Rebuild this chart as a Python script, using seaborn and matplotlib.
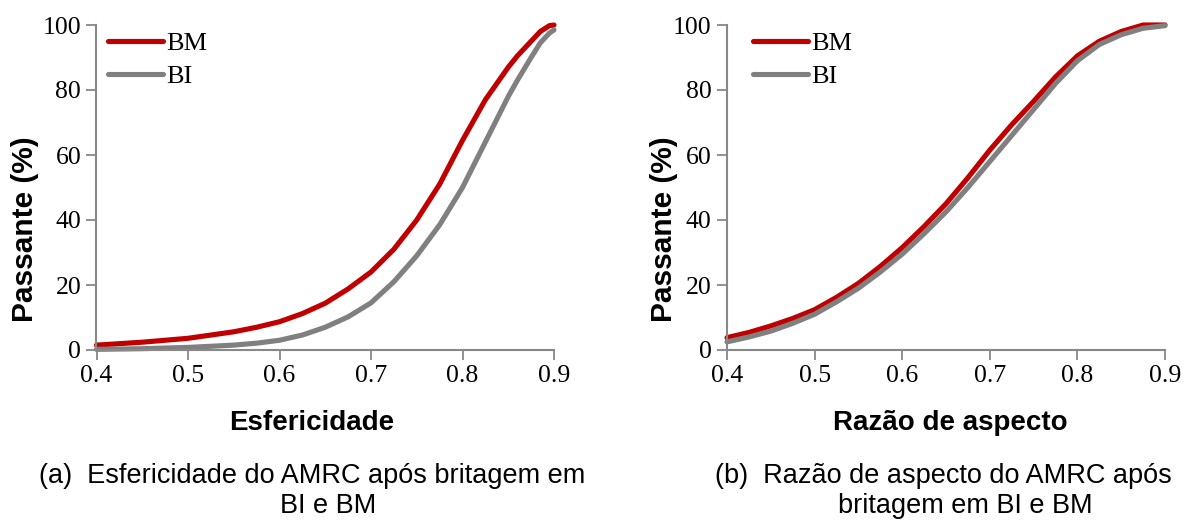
import numpy as np
import pandas as pd
import seaborn as sns
import matplotlib
matplotlib.use("Agg")
import matplotlib.pyplot as plt
from matplotlib import font_manager

# ---- data ----
esf_x_bm = [0.40, 0.45, 0.50, 0.55, 0.575, 0.60, 0.625, 0.65, 0.675, 0.70, 0.725, 0.75,
            0.775, 0.80, 0.825, 0.85, 0.86, 0.875, 0.885, 0.895, 0.90]
esf_bm = [1.5, 2.4, 3.6, 5.6, 7.0, 8.7, 11.2, 14.4, 18.8, 24.0, 31.0, 40.0,
          51.0, 64.5, 77.0, 87.0, 90.5, 95.0, 98.0, 99.8, 100.0]
esf_x_bi = [0.40, 0.45, 0.50, 0.55, 0.575, 0.60, 0.625, 0.65, 0.675, 0.70, 0.725, 0.75,
            0.775, 0.80, 0.825, 0.85, 0.86, 0.875, 0.885, 0.895, 0.90]
esf_bi = [0.2, 0.4, 0.8, 1.5, 2.1, 3.0, 4.6, 7.0, 10.2, 14.5, 21.0, 29.0,
          38.5, 50.0, 64.0, 78.0, 83.0, 90.0, 94.5, 97.5, 98.5]

raz_x = [0.40, 0.425, 0.45, 0.475, 0.50, 0.525, 0.55, 0.575, 0.60, 0.625, 0.65, 0.675,
         0.70, 0.725, 0.75, 0.775, 0.80, 0.825, 0.85, 0.875, 0.90]
raz_bm = [3.8, 5.4, 7.4, 9.7, 12.4, 16.2, 20.5, 25.7, 31.5, 38.0, 45.0, 53.0,
          61.5, 69.3, 76.5, 84.0, 90.5, 95.0, 98.0, 100.0, 100.0]
raz_bi = [2.5, 4.0, 5.8, 8.2, 11.0, 14.8, 19.0, 24.0, 29.5, 35.8, 42.5, 50.0,
          58.0, 66.0, 74.0, 82.0, 89.0, 94.0, 97.0, 99.0, 99.8]

series_names = ["BM", "BI"]
xticks = [0.4, 0.5, 0.6, 0.7, 0.8, 0.9]
yticks = [0, 20, 40, 60, 80, 100]
xlabels = ["Esfericidade", "Razão de aspecto"]
ylabel = "Passante (%)"
captions = [("(a)  Esfericidade do AMRC após britagem em", "BI e BM"),
            ("(b)  Razão de aspecto do AMRC após", "britagem em BI e BM")]

df_a = pd.concat([
    pd.DataFrame({"x": esf_x_bm, "y": esf_bm, "s": "BM"}),
    pd.DataFrame({"x": esf_x_bi, "y": esf_bi, "s": "BI"}),
])
df_b = pd.concat([
    pd.DataFrame({"x": raz_x, "y": raz_bm, "s": "BM"}),
    pd.DataFrame({"x": raz_x, "y": raz_bi, "s": "BI"}),
])

sns.set_theme(style="white")
plt.rcParams["font.family"] = ["Liberation Serif", "DejaVu Serif"]
plt.rcParams["text.color"] = "black"
plt.rcParams["axes.labelcolor"] = "black"

installed = {f.name for f in font_manager.fontManager.ttflist}
if "Liberation Sans Narrow" in installed:
    cap_family, cap_size = ["Liberation Sans Narrow", "Liberation Sans"], 23
else:
    cap_family, cap_size = ["Liberation Sans", "DejaVu Sans"], 19.5

palette = {"BM": "#C00000", "BI": "#808080"}
axis_gray = "#888888"

fig = plt.figure(figsize=(11.84, 5.26), dpi=100)
W, H = 1184, 526
boxes = [(96.5, 25, 554, 350), (727, 25, 1165, 350)]
ylab_x = [25, 664]
xlab_x = [312, 950]
leg_x = [108, 753]

for i, (df, box) in enumerate(zip([df_a, df_b], boxes)):
    l, t, r, b = box
    wpx, hpx = r - l, b - t
    ax = fig.add_axes([l / W, 1 - b / H, wpx / W, hpx / H])
    sns.lineplot(data=df, x="x", y="y", hue="s", hue_order=series_names,
                 palette=palette, linewidth=3.7, ax=ax, sort=True,
                 solid_capstyle="round", clip_on=False)
    ax.set_xlim(0.4, 0.9)
    ax.set_ylim(0, 100)
    ax.set_xticks(xticks)
    ax.set_xticklabels([f"{v:.1f}" for v in xticks])
    ax.set_yticks(yticks)
    ax.set_yticklabels([str(v) for v in yticks])
    ax.tick_params(axis="both", which="both", direction="out", length=7,
                   width=1.3, color=axis_gray, labelsize=18.5, labelcolor="black",
                   bottom=True, left=True, pad=4)
    for side in ["top", "right"]:
        ax.spines[side].set_visible(False)
    for side in ["left", "bottom"]:
        ax.spines[side].set_color(axis_gray)
        ax.spines[side].set_linewidth(1.5)
    ax.set_xlabel(xlabels[i], fontsize=20, fontweight="bold", color="black",
                  family=["Liberation Sans", "DejaVu Sans"])
    ax.xaxis.set_label_coords((xlab_x[i] - l) / wpx, (b - 423) / hpx)
    ax.xaxis.label.set_va("center")
    ax.set_ylabel(ylabel, fontsize=21.5, fontweight="bold", color="black",
                  family=["Liberation Sans", "DejaVu Sans"])
    ax.yaxis.set_label_coords((ylab_x[i] - l) / wpx, (b - 229) / hpx)
    ax.yaxis.label.set_va("center")
    leg = ax.legend(title=None, loc="upper left", frameon=False, fontsize=19,
                    handlelength=2.1, handletextpad=0.12, labelspacing=0.36,
                    borderpad=0, borderaxespad=0,
                    bbox_to_anchor=((leg_x[i] - l) / wpx, (b - 32) / hpx))
    for line in leg.get_lines():
        line.set_linewidth(3.7)
        line.set_solid_capstyle("round")

cap_font = dict(fontsize=cap_size, family=cap_family, ha="center", va="center")
fig.text(312 / W, 1 - 476 / H, captions[0][0], **cap_font)
fig.text(328 / W, 1 - 506 / H, captions[0][1], **cap_font)
fig.text(943 / W, 1 - 476 / H, captions[1][0], **cap_font)
fig.text(965 / W, 1 - 506 / H, captions[1][1], **cap_font)

fig.savefig("out.png", dpi=100)
